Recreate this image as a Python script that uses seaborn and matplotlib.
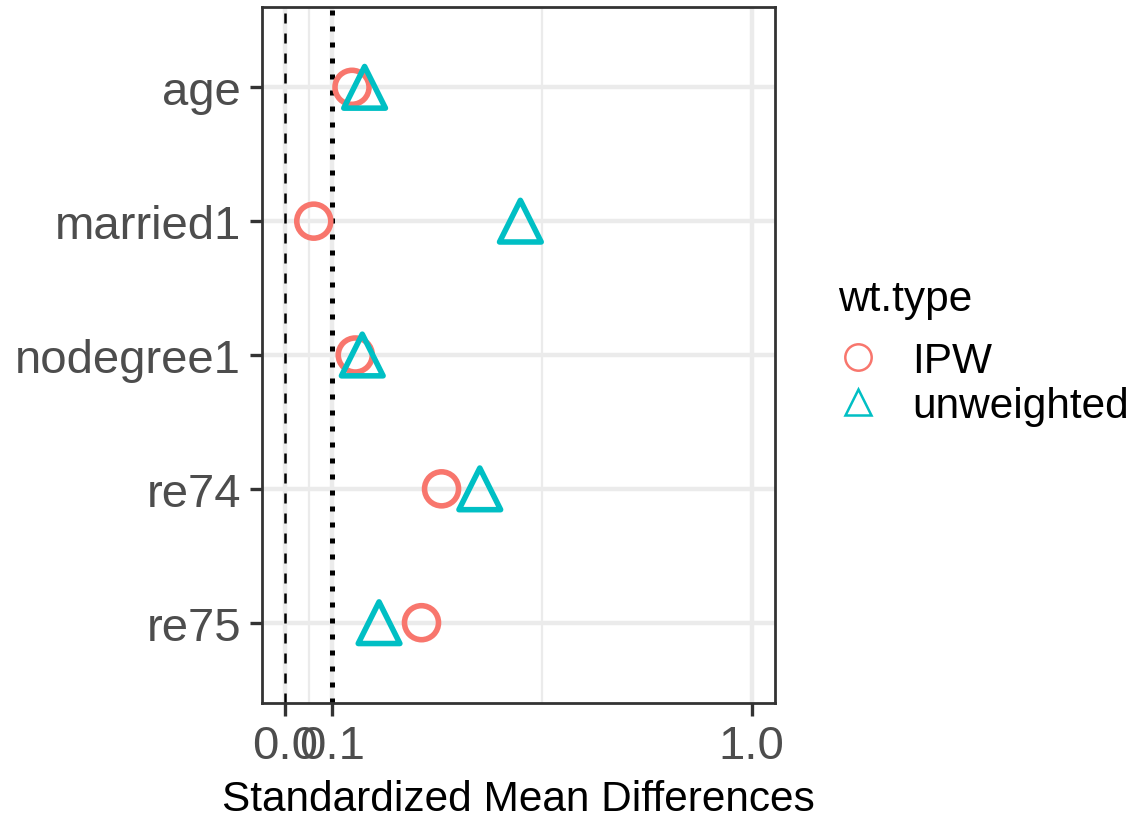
import matplotlib
matplotlib.use("Agg")
import matplotlib.pyplot as plt
from matplotlib.lines import Line2D
from matplotlib.ticker import FixedLocator
import seaborn as sns
import pandas as pd

variables = ["age", "married1", "nodegree1", "re74", "re75"]
ipw = [0.143, 0.061, 0.150, 0.335, 0.292]
unweighted = [0.170, 0.504, 0.165, 0.417, 0.201]
wt_types = ["IPW", "unweighted"]
x_ticks = [0.0, 0.1, 1.0]
x_tick_labels = ["0.0", "0.1", "1.0"]

df = pd.DataFrame({
    "var": variables * 2,
    "smd": ipw + unweighted,
    "wt.type": ["IPW"] * len(variables) + ["unweighted"] * len(variables),
})

sns.set_theme(style="white")
plt.rcParams["font.family"] = ["Liberation Sans", "DejaVu Sans"]

palette = {"IPW": "#F8766D", "unweighted": "#00BFC4"}
markers = {"IPW": "o", "unweighted": "^"}
sizes = {"IPW": 600, "unweighted": 900}

fig = plt.figure(figsize=(11.38, 8.2), dpi=100)
ax = fig.add_axes([262 / 1138, 1 - 704 / 820, (775 - 262) / 1138, (704 - 8) / 820])

# grid
ax.set_axisbelow(True)
ax.xaxis.set_major_locator(FixedLocator(x_ticks))
ax.xaxis.set_minor_locator(FixedLocator([0.05, 0.55]))
ax.grid(which="major", axis="both", color="#EBEBEB", linewidth=3.2)
ax.grid(which="minor", axis="x", color="#EBEBEB", linewidth=1.6)

ax.axvline(0.0, color="black", linestyle=(0, (4, 4)), linewidth=1.8, zorder=1.5)
ax.axvline(0.1, color="black", linestyle=(0, (1, 2.2)), linewidth=3.6, zorder=1.5)

for wt in wt_types:
    sub = df[df["wt.type"] == wt]
    sns.scatterplot(data=sub, x="smd", y="var", marker=markers[wt],
                    s=sizes[wt], facecolor="none",
                    edgecolor=palette[wt], linewidth=4.0, ax=ax, zorder=3,
                    legend=False)

ax.set_xlim(-0.05, 1.05)
ax.set_ylim(len(variables) - 0.4, -0.6)
ax.set_xticks(x_ticks)
ax.set_xticklabels(x_tick_labels)

for s in ax.spines.values():
    s.set_color("#333333")
    s.set_linewidth(2.0)

ax.tick_params(axis="both", which="major", length=9, width=2.4, color="#333333",
               labelsize=34, labelcolor="#4D4D4D", bottom=True, left=True)
ax.tick_params(axis="y", pad=6)
ax.tick_params(axis="x", pad=6)
ax.tick_params(axis="x", which="minor", length=0)
ax.set_xlabel("Standardized Mean Differences", fontsize=30.5, color="black", labelpad=8)
ax.set_ylabel("")

fig.text(838 / 1138, 1 - 300 / 820, "wt.type", fontsize=30.5, color="black",
         ha="left", va="center")
handles = [Line2D([], [], linestyle="none", marker=markers[w], markersize=19,
                  markerfacecolor="none", markeredgecolor=palette[w],
                  markeredgewidth=1.8) for w in wt_types]
leg = fig.legend(handles, wt_types, loc="upper left",
                 bbox_to_anchor=(838 / 1138, 1 - 342 / 820), frameon=False,
                 fontsize=30.5, handletextpad=0.8,
                 labelspacing=0.12, borderaxespad=0, handlelength=0.95,
                 borderpad=0)
for t in leg.get_texts():
    t.set_color("black")

fig.savefig("out.png", dpi=100)
